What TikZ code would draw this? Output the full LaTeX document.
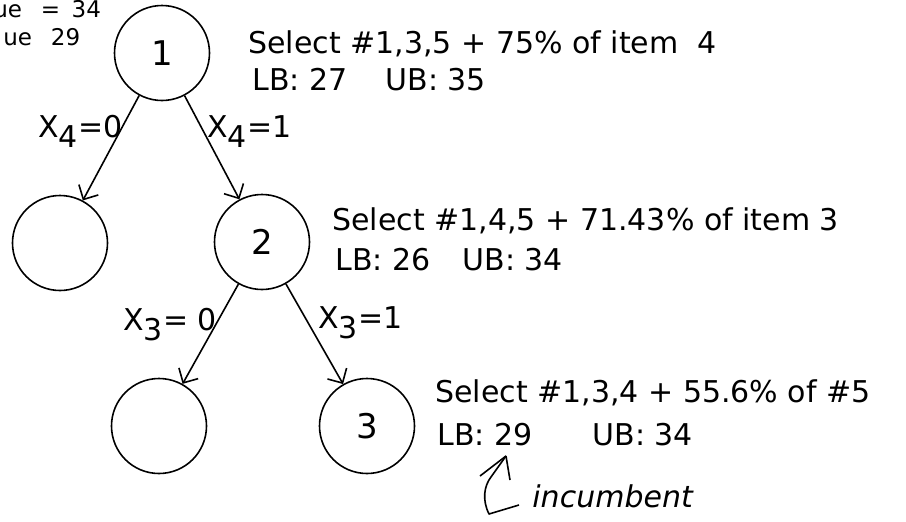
\documentclass[tikz,border=0pt]{standalone}
\usepackage{fontspec}
\setmainfont{DejaVu Sans}
\usetikzlibrary{arrows.meta}

\newcommand{\subidx}[1]{\raisebox{-5pt}{#1}}

\begin{document}
\begin{tikzpicture}[x=0.5pt,y=-0.5pt,
  state/.style={draw, circle, line width=0.8pt, minimum size=47.5pt, inner sep=0pt, font=\fontsize{17}{19}\selectfont},
  info/.style={anchor=base west, inner sep=0pt, font=\fontsize{15}{18}\selectfont},
  branch/.style={line width=0.8pt, -{Straight Barb[length=5.5pt,width=11pt]}}]
\useasboundingbox (0,0) rectangle (906,521);
% Branch and bound tree
\node[state] (n1) at (162,53) {1};
\node[state] (n1l) at (60,243) {};
\node[state] (n2) at (262,242) {2};
\node[state] (n2l) at (159,426) {};
\node[state] (n3) at (367,426) {3};
\draw[branch] (n1) -- (n1l);
\draw[branch] (n1) -- (n2);
\draw[branch] (n2) -- (n2l);
\draw[branch] (n2) -- (n3);
\node[info] (x4a) at (38,137) {X\subidx{4}=0};
\node[info] (x4b) at (207,137) {X\subidx{4}=1};
\node[info] (x3a) at (123,330) {X\subidx{3}= 0};
\node[info] (x3b) at (318,328) {X\subidx{3}=1};
% Relaxations at each node
\node[info] (s1) at (248,53) {Select \#1,3,5 + 75\% of item\ \ 4};
\node[info] (b1) at (252,90) {LB: 27\hspace{19pt}UB: 35};
\node[info] (s2) at (332,230) {Select \#1,4,5 + 71.43\% of item 3};
\node[info] (b2) at (335,270) {LB: 26\hspace{16pt}UB: 34};
\node[info] (s3) at (435,402) {Select \#1,3,4 + 55.6\% of \#5};
\node[info] (b3) at (437,445) {LB: 29\hspace{30pt}UB: 34};
\node[info, font=\fontsize{15}{18}\selectfont\itshape] (inc) at (532,507) {incumbent};
\coordinate (inctail) at (519,505);
\coordinate (inctip) at (506,456);
\draw[line width=0.8pt, line join=round] (inctail) -- (489,514) .. controls (482,500) and (484,486) .. (491,477) -- (inctip);
\draw[line width=0.8pt] (inctip) -- +(-26,20);
\draw[line width=0.8pt] (inctip) -- +(4,24);
% Values cut off at the left edge
\node[info, font=\fontsize{11.5}{13}\selectfont] (v1) at (-7,17) {ue\enspace\ =\hspace{0.5em}34};
\node[info, font=\fontsize{11.5}{13}\selectfont] (v2) at (3,45) {ue\enspace\ 29};
\end{tikzpicture}
\end{document}
